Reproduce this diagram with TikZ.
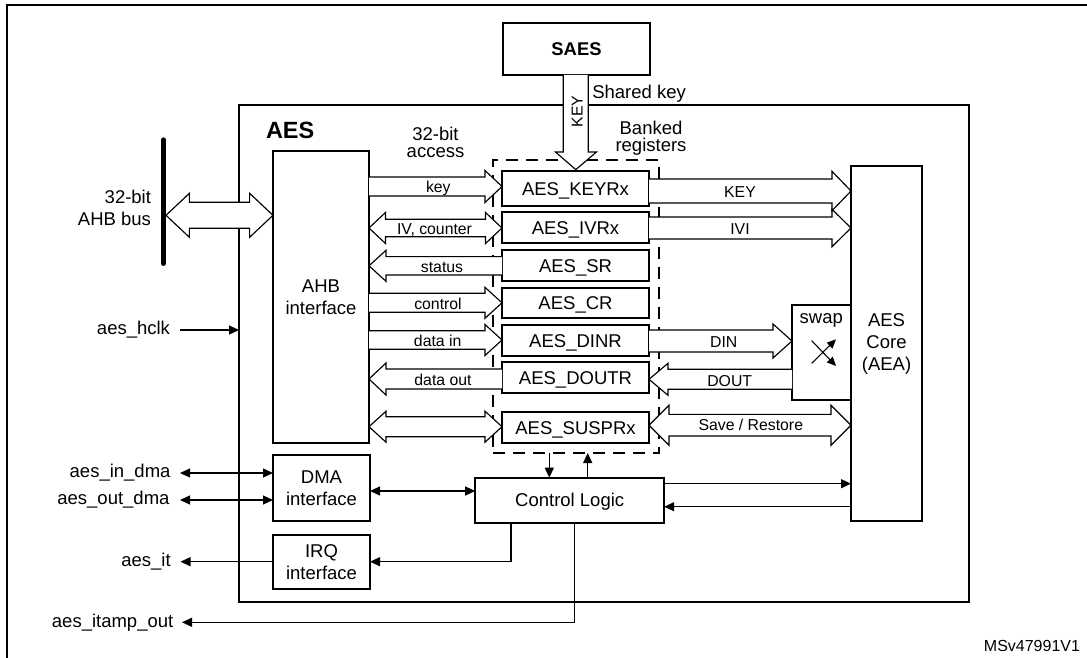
\documentclass[tikz,border=0pt]{standalone}
\usepackage{fontspec}
\setmainfont{Liberation Sans}
\usetikzlibrary{arrows.meta}

% hollow (outline) arrows: #1 left x, #2 right x, #3 centre y,
% #4 shaft half width, #5 head half width, #6 head length
\newcommand{\hollowRight}[6]{%
  \filldraw[hollow] (#1,#3-#4) -- (#2-#6,#3-#4) -- (#2-#6,#3-#5) -- (#2,#3)
    -- (#2-#6,#3+#5) -- (#2-#6,#3+#4) -- (#1,#3+#4);}
\newcommand{\hollowLeft}[6]{%
  \filldraw[hollow] (#2,#3-#4) -- (#1+#6,#3-#4) -- (#1+#6,#3-#5) -- (#1,#3)
    -- (#1+#6,#3+#5) -- (#1+#6,#3+#4) -- (#2,#3+#4);}
\newcommand{\hollowBoth}[6]{%
  \filldraw[hollow] (#1,#3) -- (#1+#6,#3-#5) -- (#1+#6,#3-#4) -- (#2-#6,#3-#4)
    -- (#2-#6,#3-#5) -- (#2,#3) -- (#2-#6,#3+#5) -- (#2-#6,#3+#4)
    -- (#1+#6,#3+#4) -- (#1+#6,#3+#5) -- cycle;}

\begin{document}
\begin{tikzpicture}[x=1pt,y=-1pt,
  every node/.style={inner sep=0pt,outer sep=0pt},
  mainfont/.style={font=\fontsize{18.5}{22}\selectfont},
  tightfont/.style={font=\fontsize{18.5}{17.6}\selectfont},
  box/.style={draw,line width=1.7pt,fill=white,mainfont,align=center},
  regbox/.style={draw,line width=1.7pt,fill=white,mainfont,minimum width=147pt,text height=13.3pt,text depth=0pt},
  smalltext/.style={font=\fontsize{15.8}{18}\selectfont,text height=11.4pt,text depth=0pt},
  hollow/.style={draw=black,line width=1.15pt,fill=white,line join=miter,miter limit=20},
  wire/.style={line width=1.1pt},
  onetip/.style={-{Triangle[length=10pt,width=9pt]}},
  twotips/.style={{Triangle[length=10pt,width=9pt]}-{Triangle[length=10pt,width=9pt]}},
  smalltip/.style={-{Triangle[length=9pt,width=8pt]}}
]
\useasboundingbox (0,0) rectangle (1087,658);

% outer frame (cropped)
\draw[line width=2pt] (1092,5) -- (7.3,5) -- (7.3,664);

% AES block and banked register frame
\node[draw,line width=2.5pt,minimum width=730pt,minimum height=497pt] (aes) at (604,353.5) {};
\node[anchor=west,font=\bfseries\fontsize{23.5}{28}\selectfont] (aestitle) at (266,130) {AES};
\node[draw,line width=2pt,dash pattern=on 12pt off 8pt,minimum width=166pt,minimum height=293pt] (banked) at (576,306.5) {};

% texts at the top
\node[tightfont,align=center] (acc) at (435.5,142.2) {32-bit\\access};
\node[tightfont,align=center] (bank) at (651,138.3) {Banked\\registers};
\node[mainfont,anchor=base west] (shared) at (592.3,98.3) {Shared key};

% SAES and its shared key
\node[draw,line width=1.9pt,fill=white,minimum width=147pt,minimum height=52pt,
      font=\bfseries\fontsize{18.4}{22}\selectfont,text height=13.2pt,text depth=0pt] (saes) at (576.5,49) {SAES};
\filldraw[hollow] (563.3,75) -- (563.3,152) -- (555.5,152) -- (575.8,169.6)
   -- (596.5,152) -- (588.3,152) -- (588.3,75);
\node[smalltext,rotate=90] (keyv) at (577,111.7) {KEY};

% AHB bus
\coordinate (busTop) at (163.3,139.7);
\coordinate (busBot) at (163.3,263.6);
\draw[line width=4.7pt,line cap=round] (busTop) -- (busBot);
\node[mainfont,align=right,anchor=east] (busT) at (151,207.5) {32-bit\\AHB bus};
\hollowBoth{166}{273}{215.3}{13}{22}{23.4}

% boxes
\node[box,minimum width=96pt,minimum height=292pt] (ahb) at (321,297) {AHB\\interface};
\node[regbox,minimum height=35pt] (keyr) at (575.5,188.5) {AES\_KEYRx};
\node[regbox,minimum height=31pt] (ivr) at (575.5,227.5) {AES\_IVRx};
\node[regbox,minimum height=31pt] (sr) at (575.5,265.5) {AES\_SR};
\node[regbox,minimum height=30pt] (cr) at (575.5,303) {AES\_CR};
\node[regbox,minimum height=31pt] (dinr) at (575.5,340.5) {AES\_DINR};
\node[regbox,minimum height=31pt] (doutr) at (575.5,377.5) {AES\_DOUTR};
\node[regbox,minimum height=31pt] (suspr) at (575.5,427.5) {AES\_SUSPRx};
\node[draw,line width=1.8pt,fill=white,minimum width=59pt,minimum height=95pt] (swap) at (821.5,352.5) {};
\node[mainfont,anchor=base] (swapT) at (821.3,323) {swap};
\node[box,line width=1.9pt,minimum width=71pt,minimum height=355pt] (core) at (886.5,343.5) {AES\\Core\\(AEA)};
\node[box,minimum width=97pt,minimum height=66pt] (dma) at (321.5,488) {DMA\\interface};
\node[box,minimum width=97pt,minimum height=54pt] (irq) at (321.5,562) {IRQ\\interface};
\node[regbox,minimum width=189pt,minimum height=45pt] (cl) at (569.7,500.2) {Control Logic};

% swap symbol
\draw[wire,smalltip] (811.7,363.3) -- (836,339.3);
\draw[wire,smalltip] (811.7,340.7) -- (836,366);

% hollow arrows AHB <-> registers
\hollowRight{369}{502}{186.5}{9.5}{16}{17}
\hollowBoth{369}{502}{228}{8.7}{15.5}{16.5}
\hollowLeft{369}{502}{265.8}{9.2}{15.5}{17}
\hollowRight{369}{502}{302.8}{9.5}{15.5}{17}
\hollowRight{369}{502}{340}{9.3}{15.5}{17}
\hollowLeft{369}{502}{379}{10}{16}{17}
\hollowBoth{369}{502}{426.7}{10}{15.5}{17}
\node[smalltext] (lkey) at (438.3,187) {key};
\node[smalltext] (liv) at (434.5,228.5) {IV, counter};
\node[smalltext] (lstat) at (442,266.3) {status};
\node[smalltext] (lctrl) at (438,303.3) {control};
\node[smalltext] (ldin) at (437.7,340.5) {data in};
\node[smalltext] (ldout) at (443,379.3) {data out};

% hollow arrows registers <-> core / swap
\hollowRight{649}{851}{191}{12}{19.7}{19}
\hollowRight{649}{851}{228}{11}{18.7}{19}
\hollowRight{649}{792}{341}{11}{17}{19}
\hollowLeft{649}{792}{379.3}{10}{16}{19}
\hollowBoth{649}{851}{425.2}{10.8}{20}{20}
\node[smalltext] (lKEY) at (740,192.2) {KEY};
\node[smalltext] (lIVI) at (740,229.2) {IVI};
\node[smalltext] (lDIN) at (723.7,342.2) {DIN};
\node[smalltext] (lDOUT) at (729.7,380.8) {DOUT};
\node[smalltext] (lSR) at (750.8,425.2) {Save / Restore};

% control logic connections
\draw[wire,onetip] (banked.south -| 549.3,0) -- (cl.north -| 549.3,0);
\draw[wire,onetip] (cl.north -| 587.7,0) -- (banked.south -| 587.7,0);
\draw[wire,onetip] (cl.east |- 0,483.7) -- (core.west |- 0,483.7);
\draw[wire,onetip] (core.west |- 0,506.7) -- (cl.east |- 0,506.7);
\draw[wire,twotips] (dma.east |- 0,491) -- (cl.west |- 0,491);
\coordinate (irqC) at (511,561.7);
\draw[wire,onetip] (irqC |- cl.south) -- (irqC) -- (irqC -| irq.east);
\coordinate (itampC) at (574.3,622.3);
\coordinate (itampE) at (182,622.3);
\draw[wire,onetip] (itampC |- cl.south) -- (itampC) -- (itampE);

% external signals
\coordinate (hclkS) at (180,330);
\draw[wire,onetip] (hclkS) -- (aes.west |- hclkS);
\node[mainfont,anchor=east] (hclkT) at (170,330) {aes\_hclk};
\coordinate (inE) at (180,473);
\draw[wire,twotips] (inE) -- (inE -| dma.west);
\node[mainfont,anchor=east] (inT) at (170.5,473) {aes\_in\_dma};
\coordinate (outE) at (180,500);
\draw[wire,twotips] (outE) -- (outE -| dma.west);
\node[mainfont,anchor=east] (outT) at (169.5,500) {aes\_out\_dma};
\coordinate (itE) at (180.5,561.7);
\draw[wire,onetip] (itE -| irq.west) -- (itE);
\node[mainfont,anchor=east] (itT) at (170.7,561.7) {aes\_it};
\node[mainfont,anchor=east] (itampT) at (173.3,622.3) {aes\_itamp\_out};

\node[font=\fontsize{16}{18}\selectfont,anchor=east,text height=11.5pt,text depth=0pt] (msv) at (1080,646.2) {MSv47991V1};
\end{tikzpicture}
\end{document}
